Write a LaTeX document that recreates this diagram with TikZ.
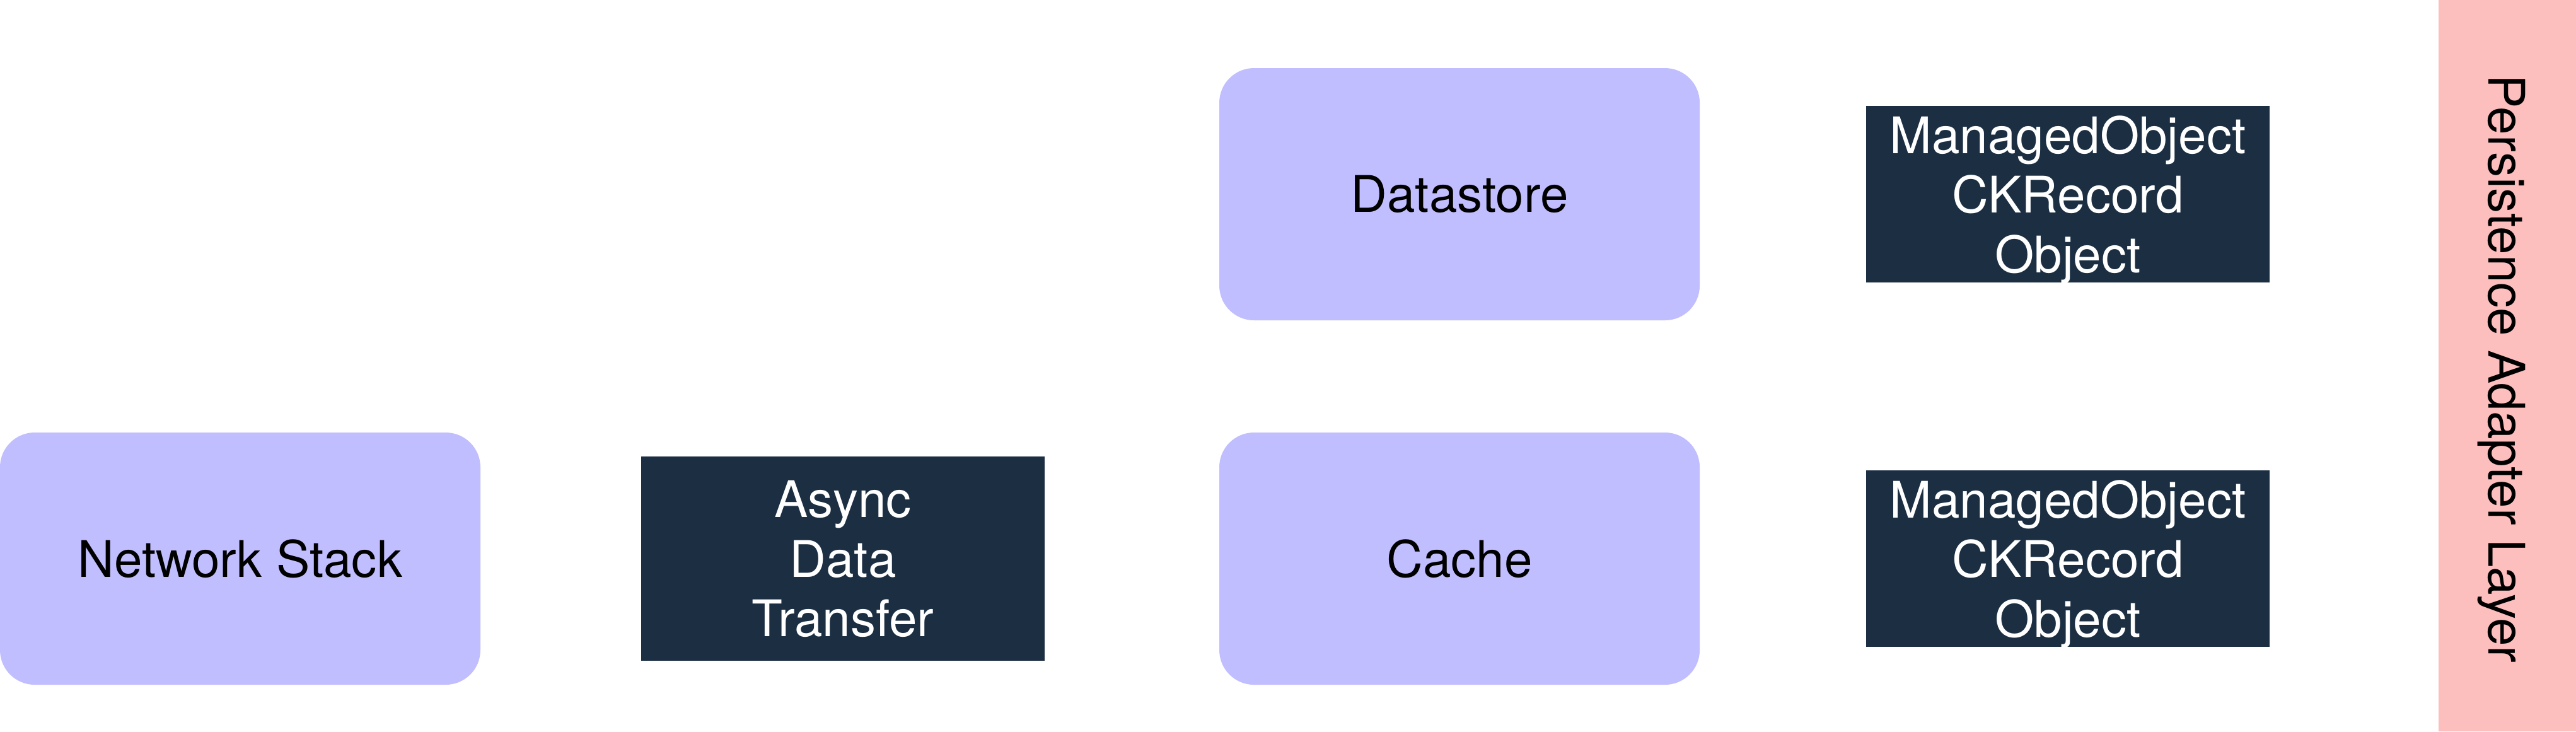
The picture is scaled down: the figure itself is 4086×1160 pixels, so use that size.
\documentclass[tikz,border=0pt]{standalone}
\usepackage{fontspec}
\setmainfont{TeX Gyre Heros}
\definecolor{lav}{RGB}{192,190,254}
\definecolor{navy}{RGB}{27,46,66}
\definecolor{pinkbar}{RGB}{253,190,190}
\begin{document}
\begin{tikzpicture}[x=0.25pt,y=-0.25pt,
  lbl/.style={font=\fontsize{20}{23.6}\selectfont},
  softbox/.style={lbl,fill=lav,text=black,rounded corners=13.75pt,inner sep=0pt,
    minimum width=190.5pt,minimum height=100pt},
  darkbox/.style={lbl,fill=navy,text=white,inner sep=0pt,align=center,
    minimum width=160pt,text depth=0pt}]
\useasboundingbox (0,0) rectangle (4086,1160);
\fill[white] (0,0) rectangle (4086,1160);
\node[softbox] (net) at (381,886) {Network Stack};
\node[darkbox,minimum height=81pt] (async) at (1337,886) {Async\\Data\\Transfer};
\node[softbox] (ds) at (2315,308) {Datastore};
\node[softbox] (cache) at (2315,886) {Cache};
\node[darkbox,minimum height=70pt] (mo1) at (3280,308) {ManagedObject\\CKRecord\\Object};
\node[darkbox,minimum height=70pt] (mo2) at (3280,886) {ManagedObject\\CKRecord\\Object};
\fill[pinkbar] (3868,0) rectangle (4086,1160);
\node[lbl,rotate=-90,anchor=base,inner sep=0pt] (pal) at (3947,585) {Persistence Adapter Layer};
\end{tikzpicture}
\end{document}
